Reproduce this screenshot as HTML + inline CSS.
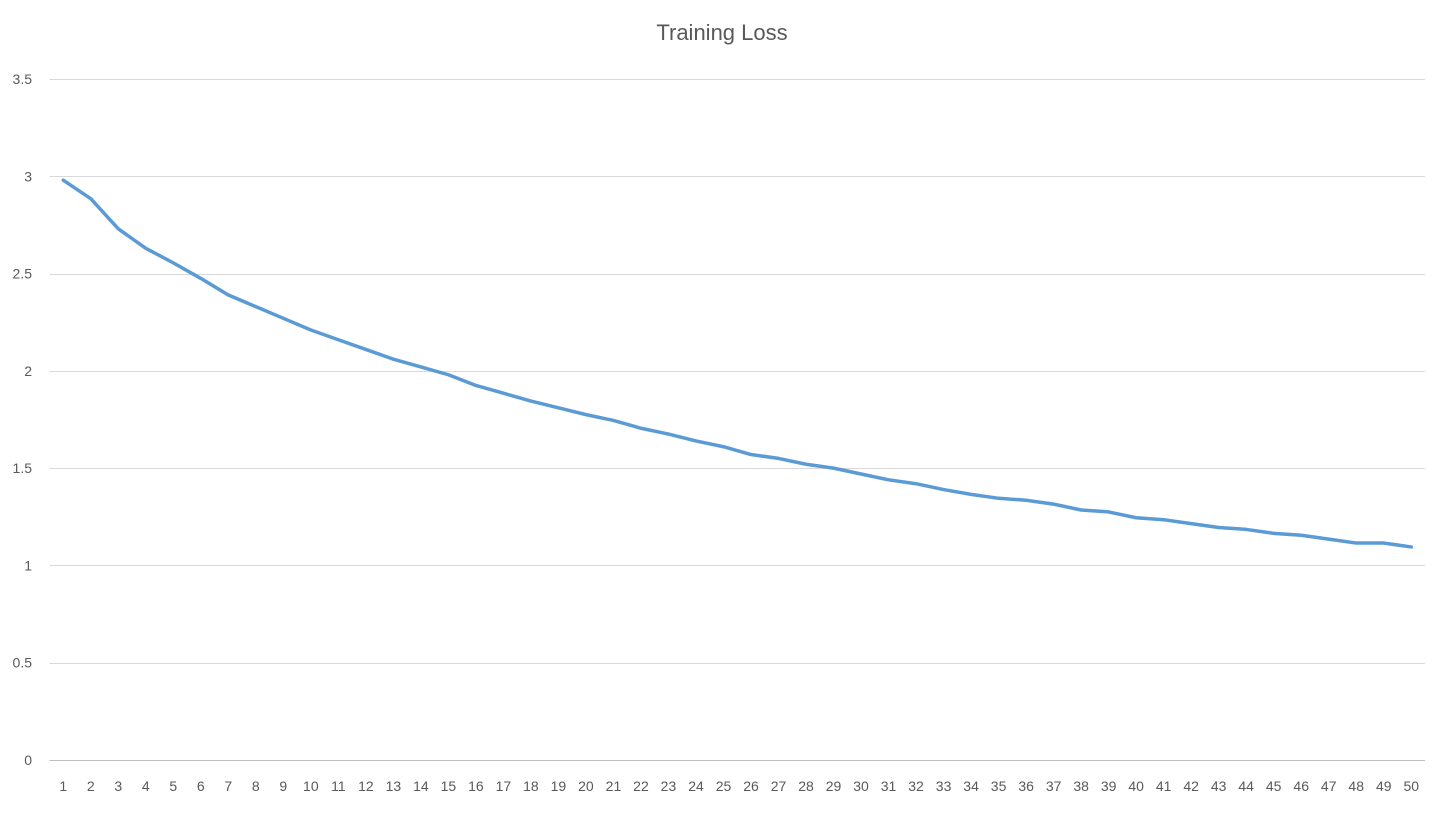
<!DOCTYPE html>
<html><head><meta charset="utf-8"><style>
html,body{margin:0;padding:0;background:#fff;}
svg{display:block;font-family:"Liberation Sans",sans-serif;}
</style></head><body>
<svg id="chart" width="1448" height="814" viewBox="0 0 1448 814" xmlns="http://www.w3.org/2000/svg">
<text x="722" y="40" text-anchor="middle" font-size="22" fill="#595959">Training Loss</text>
<g id="grid"></g>
<g id="yticks"></g>
<g id="xticks"></g>
<g id="series"></g>
</svg>
<script>
const epochs = Array.from({length:50},(_,i)=>String(i+1));
const loss = [2.98,2.885,2.73,2.63,2.555,2.475,2.39,2.33,2.27,2.21,2.16,2.11,2.06,2.02,1.98,1.925,1.885,1.845,1.81,1.775,1.745,1.705,1.675,1.64,1.61,1.57,1.55,1.52,1.5,1.47,1.44,1.42,1.39,1.365,1.345,1.335,1.315,1.285,1.275,1.245,1.235,1.215,1.195,1.185,1.165,1.155,1.135,1.115,1.115,1.095];
const yTicks = [0,0.5,1,1.5,2,2.5,3,3.5];
const yTickLabels = ["0","0.5","1","1.5","2","2.5","3","3.5"];

const NS="http://www.w3.org/2000/svg";
const left=49.5,right=1425,top0=79,bottom=760,yMax=3.5;
const step=(right-left)/epochs.length;
const xs=i=>left+step*(i+0.5);
const ys=v=>bottom-(v/yMax)*(bottom-top0);
const grid=document.getElementById('grid'),yt=document.getElementById('yticks'),xt=document.getElementById('xticks'),ser=document.getElementById('series');
yTicks.forEach((t,i)=>{
  const l=document.createElementNS(NS,'line');
  
  
  l.setAttribute('x1',left);l.setAttribute('x2',right);
  const y=Math.round(ys(t))+0.5;
  l.setAttribute('y1',y);l.setAttribute('y2',y);
  l.setAttribute('stroke',t===0?'#bfbfbf':'#d9d9d9');l.setAttribute('stroke-width','1');
  grid.appendChild(l);
  const tx=document.createElementNS(NS,'text');
  
  
  tx.setAttribute('x',32);tx.setAttribute('y',ys(t)+5);tx.setAttribute('text-anchor','end');
  tx.setAttribute('font-size','14');tx.setAttribute('fill','#595959');
  tx.textContent=yTickLabels[i];yt.appendChild(tx);
});
epochs.forEach((c,i)=>{
  const tx=document.createElementNS(NS,'text');
  
  
  tx.setAttribute('x',xs(i));tx.setAttribute('y',791);tx.setAttribute('text-anchor','middle');
  tx.setAttribute('font-size','14');tx.setAttribute('fill','#595959');
  tx.textContent=c;xt.appendChild(tx);
});
const p=document.createElementNS(NS,'polyline');


p.setAttribute('points',loss.map((v,i)=>xs(i)+','+ys(v)).join(' '));
p.setAttribute('fill','none');p.setAttribute('stroke','#5b9bd5');p.setAttribute('stroke-width','3.5');
p.setAttribute('stroke-linejoin','round');p.setAttribute('stroke-linecap','round');
ser.appendChild(p);
</script>
</body></html>
